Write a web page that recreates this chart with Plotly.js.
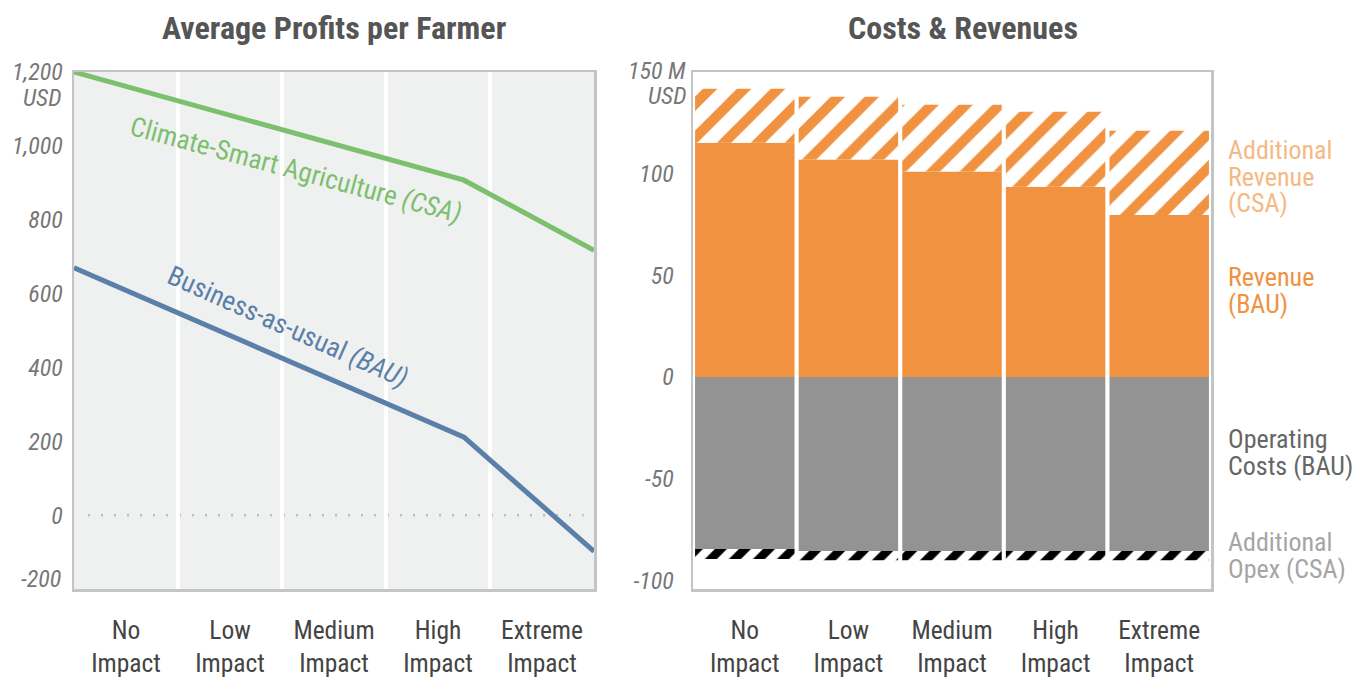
<!DOCTYPE html>
<html>
<head>
<meta charset="utf-8">
<script src="https://cdn.plot.ly/plotly-3.0.1.min.js"></script>
<style>html,body{margin:0;padding:0;background:#fff;}#chart{width:1368px;height:678px;}</style>
</head>
<body>
<div id="chart"></div>
<script>
// ---- data ----
const categories = ["No<br>Impact", "Low<br>Impact", "Medium<br>Impact", "High<br>Impact", "Extreme<br>Impact"];
const profitCSA = [1200, 1103, 1006, 907, 717];
const profitBAU = [670, 517, 363, 211, -98];
const profitTicks = [0, 200, 400, 600, 800, 1000, 1200];
const profitTickText = ["0", "200", "400", "600", "800", "1,000", "1,200"];

const revenueBAU = [115.2, 107.0, 101.0, 93.5, 79.7];
const revenueAddCSA = [26.5, 30.8, 32.9, 36.9, 41.4];
const opexBAU = [-84.6, -85.6, -85.6, -85.6, -85.6];
const opexAddCSA = [-4.9, -4.6, -4.6, -4.6, -4.6];
const costTicks = [-100, -50, 0, 50, 100];
const costTickText = ["-100", "-50", "0", "50", "100"];

const seriesLabels = [
  {lines: ["Additional", "Revenue", "(CSA)"], top: 150, color: "#f5b983"},
  {lines: ["Revenue", "(BAU)"], top: 277, color: "#f09240"},
  {lines: ["Operating", "Costs (BAU)"], top: 439, color: "#666666"},
  {lines: ["Additional", "Opex (CSA)"], top: 542, color: "#a5a5a5"}
];

// ---- style ----
const FONT = "Liberation Sans Narrow, Roboto Condensed, Arial Narrow, sans-serif";
const W = 1368, H = 678;
const px = v => v / W;
const py = v => 1 - v / H;
const borderCol = "#c4c4c8";
const positions = categories.map((c, i) => i);
const nBands = categories.length;
const bandW = (positions.length - 1) / nBands;
const bandCenters = categories.map((c, i) => (i + 0.5) * bandW);

const traces = [
  {x: positions, y: profitCSA, xaxis: "x", yaxis: "y", type: "scatter", mode: "lines",
   line: {color: "#7cbf6d", width: 5}, hoverinfo: "skip"},
  {x: positions, y: profitBAU, xaxis: "x", yaxis: "y", type: "scatter", mode: "lines",
   line: {color: "#5a80a9", width: 5}, hoverinfo: "skip"},
  {x: categories, y: revenueBAU, xaxis: "x2", yaxis: "y2", type: "bar",
   marker: {color: "#f09240", line: {width: 0}}},
  {x: categories, y: revenueAddCSA, xaxis: "x2", yaxis: "y2", type: "bar",
   marker: {color: "#ffffff", line: {width: 0},
            pattern: {shape: "/", fgcolor: "#f09240", bgcolor: "#ffffff", fgopacity: 1, size: 24, solidity: 0.42, fillmode: "replace"}}},
  {x: categories, y: opexBAU, xaxis: "x2", yaxis: "y2", type: "bar",
   marker: {color: "#939393", line: {width: 0}}},
  {x: categories, y: opexAddCSA, xaxis: "x2", yaxis: "y2", type: "bar",
   marker: {color: "#ffffff", line: {width: 0},
            pattern: {shape: "/", fgcolor: "#000000", bgcolor: "#ffffff", fgopacity: 1, size: 17, solidity: 0.5, fillmode: "replace"}}}
];

const tickFont = {family: FONT, size: 24, color: "#777", style: "italic"};
const catFont = {family: FONT, size: 25.5, color: "#444"};

const annotations = [
  {text: "<b>Average Profits per Farmer</b>", xref: "paper", yref: "paper", x: px(334), y: py(28),
   xanchor: "center", yanchor: "middle", showarrow: false, font: {family: FONT, size: 32, color: "#555"}},
  {text: "<b>Costs & Revenues</b>", xref: "paper", yref: "paper", x: px(963), y: py(28),
   xanchor: "center", yanchor: "middle", showarrow: false, font: {family: FONT, size: 32, color: "#555"}},
  {text: "USD", xref: "paper", yref: "y", x: px(63), y: 1200, yshift: -26,
   xanchor: "right", yanchor: "middle", showarrow: false, font: tickFont},
  {text: "-200", xref: "paper", yref: "y", x: px(63), y: -200, yshift: 10,
   xanchor: "right", yanchor: "middle", showarrow: false, font: tickFont},
  {text: "150 M", xref: "paper", yref: "y2", x: px(688), y: 150, yshift: 1,
   xanchor: "right", yanchor: "middle", showarrow: false, font: tickFont},
  {text: "USD", xref: "paper", yref: "y2", x: px(688), y: 150, yshift: -24,
   xanchor: "right", yanchor: "middle", showarrow: false, font: tickFont},
  {text: "Climate-Smart Agriculture <i>(CSA)</i>", xref: "paper", yref: "paper", x: px(296), y: py(170),
   xanchor: "center", yanchor: "middle", textangle: 15, showarrow: false,
   font: {family: FONT, size: 27, color: "#7cbf6d"}},
  {text: "Business-as-usual <i>(BAU)</i>", xref: "paper", yref: "paper", x: px(288), y: py(327),
   xanchor: "center", yanchor: "middle", textangle: 24, showarrow: false,
   font: {family: FONT, size: 27, color: "#5a80a9"}}
];
seriesLabels.forEach(lbl => {
  lbl.lines.forEach((t, k) => {
    annotations.push({text: t, xref: "paper", yref: "paper", x: px(1226), y: py(lbl.top + k * 26.5),
      xanchor: "left", yanchor: "middle", align: "left", showarrow: false,
      font: {family: FONT, size: 26, color: lbl.color}});
  });
});

const layout = {
  width: W, height: H,
  margin: {l: 0, r: 0, t: 0, b: 0},
  paper_bgcolor: "#ffffff",
  showlegend: false,
  barmode: "relative",
  bargap: 0.04,
  font: {family: FONT},
  xaxis: {
    domain: [px(74), px(594)], anchor: "y", range: [0, positions.length - 1],
    tickmode: "array", tickvals: bandCenters, ticktext: categories,
    tickfont: catFont, ticks: "", showgrid: false, zeroline: false,
    showline: true, mirror: true, linecolor: borderCol, linewidth: 2.5,
    ticklabelstandoff: 17,
    minor: {tick0: 0, dtick: bandW, showgrid: true, gridcolor: "#ffffff", gridwidth: 4, ticks: ""}
  },
  yaxis: {
    domain: [py(589), py(72)], anchor: "x", range: [-200, 1200],
    tickmode: "array", tickvals: profitTicks, ticktext: profitTickText,
    tickfont: tickFont, ticks: "", showgrid: false, zeroline: false,
    showline: true, mirror: true, linecolor: borderCol, linewidth: 2.5,
    ticklabelstandoff: 4
  },
  xaxis2: {
    domain: [px(693), px(1211)], anchor: "y2", type: "category",
    tickfont: catFont, ticks: "", showgrid: false, zeroline: false,
    showline: true, mirror: true, linecolor: borderCol, linewidth: 2.5,
    ticklabelstandoff: 17
  },
  yaxis2: {
    domain: [py(589), py(72)], anchor: "x2", range: [-104.3, 150],
    tickmode: "array", tickvals: costTicks, ticktext: costTickText,
    tickfont: tickFont, ticks: "", showgrid: false, zeroline: false,
    showline: true, mirror: true, linecolor: borderCol, linewidth: 2.5,
    ticklabelstandoff: 12
  },
  plot_bgcolor: "#ffffff",
  shapes: [
    {type: "rect", xref: "x domain", yref: "y domain", x0: 0, x1: 1, y0: 0, y1: 1,
     fillcolor: "#eff0f0", line: {width: 0}, layer: "below"},
    {type: "line", xref: "x domain", yref: "y", x0: 0.027, x1: 0.98, y0: 0, y1: 0,
     line: {color: "#bdbdbd", width: 2.5, dash: "2px,11px"}, layer: "below"}
  ],
  annotations: annotations
};

Plotly.newPlot("chart", traces, layout, {displayModeBar: false, staticPlot: true});
</script>
</body>
</html>
